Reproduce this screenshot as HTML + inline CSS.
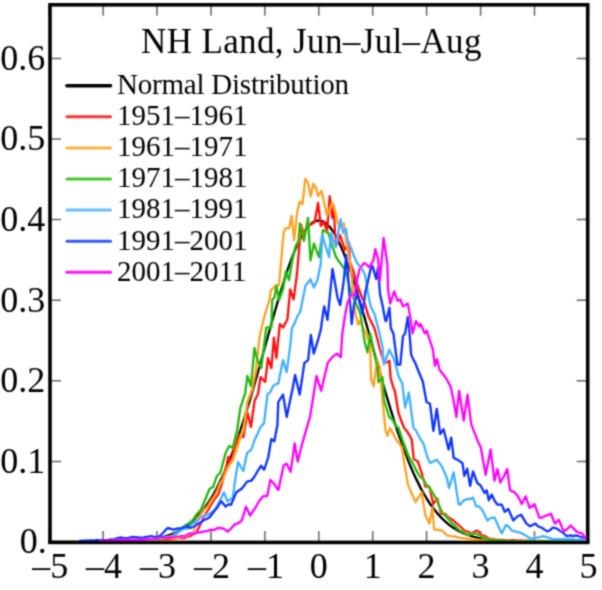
<!DOCTYPE html><html><head><meta charset="utf-8"><style>
html,body{margin:0;padding:0;background:#fff;width:602px;height:590px;overflow:hidden}
svg{display:block}
text{font-family:"Liberation Serif",serif;fill:#000}
</style></head><body>
<svg width="602" height="590" viewBox="0 0 602 590">
<defs><filter id="bl" x="-5%" y="-5%" width="110%" height="110%"><feConvolveMatrix order="3" kernelMatrix="0.04 0.12 0.04 0.12 0.36 0.12 0.04 0.12 0.04" preserveAlpha="false"/></filter></defs>
<g filter="url(#bl)">
<path d="M49.2 542.0V531.0M49.2 4.8V15.8M103.1 542.0V531.0M103.1 4.8V15.8M157.0 542.0V531.0M157.0 4.8V15.8M211.0 542.0V531.0M211.0 4.8V15.8M264.9 542.0V531.0M264.9 4.8V15.8M318.8 542.0V531.0M318.8 4.8V15.8M372.7 542.0V531.0M372.7 4.8V15.8M426.6 542.0V531.0M426.6 4.8V15.8M480.6 542.0V531.0M480.6 4.8V15.8M534.5 542.0V531.0M534.5 4.8V15.8M588.4 542.0V531.0M588.4 4.8V15.8M50.0 542.0H61.0M587.7 542.0H576.7M50.0 461.4H61.0M587.7 461.4H576.7M50.0 380.8H61.0M587.7 380.8H576.7M50.0 300.2H61.0M587.7 300.2H576.7M50.0 219.6H61.0M587.7 219.6H576.7M50.0 139.0H61.0M587.7 139.0H576.7M50.0 58.4H61.0M587.7 58.4H576.7" stroke="#000" stroke-width="1.5" fill="none" opacity="0.6"/><g fill="none" stroke-linejoin="round" stroke-linecap="round" stroke-width="2.3">
<path d="M49.2,542.0 51.9,542.0 54.6,542.0 57.3,542.0 60.0,542.0 62.7,542.0 65.4,542.0 68.1,542.0 70.8,542.0 73.5,542.0 76.2,542.0 78.9,542.0 81.6,542.0 84.2,542.0 86.9,542.0 89.6,542.0 92.3,542.0 95.0,541.9 97.7,541.9 100.4,541.9 103.1,541.9 105.8,541.9 108.5,541.8 111.2,541.8 113.9,541.8 116.6,541.7 119.3,541.7 122.0,541.6 124.7,541.5 127.4,541.4 130.1,541.3 132.8,541.2 135.5,541.0 138.2,540.8 140.9,540.6 143.6,540.4 146.3,540.1 149.0,539.7 151.6,539.4 154.3,538.9 157.0,538.4 159.7,537.9 162.4,537.2 165.1,536.5 167.8,535.6 170.5,534.7 173.2,533.6 175.9,532.4 178.6,531.1 181.3,529.5 184.0,527.9 186.7,526.0 189.4,524.0 192.1,521.7 194.8,519.2 197.5,516.4 200.2,513.4 202.9,510.1 205.6,506.5 208.3,502.7 211.0,498.5 213.7,494.0 216.4,489.1 219.0,483.9 221.7,478.4 224.4,472.5 227.1,466.2 229.8,459.6 232.5,452.6 235.2,445.3 237.9,437.6 240.6,429.6 243.3,421.3 246.0,412.7 248.7,403.9 251.4,394.8 254.1,385.5 256.8,376.0 259.5,366.4 262.2,356.7 264.9,347.0 267.6,337.2 270.3,327.5 273.0,317.9 275.7,308.5 278.4,299.3 281.1,290.3 283.8,281.7 286.4,273.4 289.1,265.6 291.8,258.2 294.5,251.4 297.2,245.2 299.9,239.6 302.6,234.6 305.3,230.3 308.0,226.8 310.7,224.0 313.4,222.1 316.1,220.9 318.8,220.5 321.5,220.9 324.2,222.1 326.9,224.0 329.6,226.8 332.3,230.3 335.0,234.6 337.7,239.6 340.4,245.2 343.1,251.4 345.8,258.2 348.5,265.6 351.2,273.4 353.8,281.7 356.5,290.3 359.2,299.3 361.9,308.5 364.6,317.9 367.3,327.5 370.0,337.2 372.7,347.0 375.4,356.7 378.1,366.4 380.8,376.0 383.5,385.5 386.2,394.8 388.9,403.9 391.6,412.7 394.3,421.3 397.0,429.6 399.7,437.6 402.4,445.3 405.1,452.6 407.8,459.6 410.5,466.2 413.2,472.5 415.9,478.4 418.6,483.9 421.2,489.1 423.9,494.0 426.6,498.5 429.3,502.7 432.0,506.5 434.7,510.1 437.4,513.4 440.1,516.4 442.8,519.2 445.5,521.7 448.2,524.0 450.9,526.0 453.6,527.9 456.3,529.5 459.0,531.1 461.7,532.4 464.4,533.6 467.1,534.7 469.8,535.6 472.5,536.5 475.2,537.2 477.9,537.9 480.6,538.4 483.3,538.9 486.0,539.4 488.6,539.7 491.3,540.1 494.0,540.4 496.7,540.6 499.4,540.8 502.1,541.0 504.8,541.2 507.5,541.3 510.2,541.4 512.9,541.5 515.6,541.6 518.3,541.7 521.0,541.7 523.7,541.8 526.4,541.8 529.1,541.8 531.8,541.9 534.5,541.9 537.2,541.9 539.9,541.9 542.6,541.9 545.3,542.0 548.0,542.0 550.7,542.0 553.4,542.0 556.0,542.0 558.7,542.0 561.4,542.0 564.1,542.0 566.8,542.0 569.5,542.0 572.2,542.0 574.9,542.0 577.6,542.0 580.3,542.0 583.0,542.0 585.7,542.0 588.4,542.0" stroke="#000000" stroke-width="2.4"/>
<path d="M100.0,541.0 102.8,540.9 105.6,540.9 108.3,540.9 111.1,540.8 113.9,540.7 116.7,540.7 119.4,540.5 122.2,540.6 125.0,540.5 127.8,540.6 130.6,540.2 133.3,540.3 136.1,540.1 138.9,540.4 141.7,540.3 144.4,539.9 147.2,540.3 150.0,540.0 152.9,540.1 155.8,539.8 158.8,539.6 161.7,539.1 164.6,538.8 167.5,539.0 170.4,538.5 173.3,538.4 176.2,538.3 179.2,537.9 182.1,538.1 185.0,538.0 187.8,536.7 190.5,535.9 193.2,534.3 196.0,533.0 199.0,527.3 202.0,521.0 205.0,515.0 208.5,509.5 212.0,503.0 215.2,498.4 218.5,494.1 222.0,483.4 225.6,469.2 228.3,456.7 231.0,463.0 234.5,447.8 239.8,435.3 243.4,437.1 247.4,412.7 251.0,426.9 254.6,400.8 258.1,393.7 260.5,377.1 265.2,381.9 268.0,358.0 271.4,368.1 273.9,337.6 276.4,358.0 279.8,324.1 283.2,327.5 287.5,319.0 290.2,289.3 293.6,299.5 297.0,274.0 299.0,250.0 301.2,224.7 303.9,235.5 307.0,226.0 310.7,224.7 314.7,222.0 318.1,203.0 320.8,226.0 324.2,222.0 327.0,232.8 329.7,196.2 332.4,217.9 333.7,205.7 335.1,232.8 336.4,245.0 340.0,235.0 345.0,250.0 349.0,242.0 350.0,262.0 353.0,270.3 356.0,280.0 358.8,289.0 361.6,296.4 364.4,302.2 368.5,316.4 370.3,320.0 374.4,328.1 377.1,337.6 379.8,348.5 383.9,362.0 386.6,362.4 389.3,360.7 390.7,378.3 393.4,387.8 394.8,390.8 398.6,413.2 401.4,421.3 404.1,428.0 406.0,430.0 408.9,434.3 411.8,439.8 413.8,459.3 417.7,461.2 421.6,472.9 425.5,486.6 429.4,486.6 433.3,504.1 437.2,498.3 441.1,513.9 445.0,513.9 448.9,517.8 452.8,520.1 456.7,523.6 460.0,526.3 464.3,530.6 468.6,532.0 471.5,533.5 474.4,531.7 477.3,530.6 481.6,535.0 485.2,536.3 488.8,538.5 491.6,539.1 494.4,539.2 497.2,539.8 500.0,540.0 502.9,540.0 505.7,540.4 508.6,540.4 511.4,540.1 514.3,540.2 517.1,540.6 520.0,540.5 522.9,540.7 525.7,540.6 528.6,540.6 531.4,540.8 534.3,540.9 537.1,540.9 540.0,541.0 542.7,541.0 545.4,541.1 548.1,541.1 550.8,541.1 553.5,541.1 556.2,541.2 558.9,541.2 561.6,541.2 564.4,541.3 567.1,541.3 569.8,541.3 572.5,541.4 575.2,541.4 577.9,541.4 580.6,541.4 583.3,541.5 586.0,541.5" stroke="#ff1010"/>
<path d="M100.0,541.0 102.8,541.0 105.6,541.0 108.4,541.0 111.2,541.0 114.0,541.0 116.8,541.0 119.6,541.0 122.4,541.0 125.2,541.0 128.0,541.0 130.8,541.0 133.6,541.0 136.4,541.0 139.2,541.0 142.0,541.0 144.8,541.0 147.6,541.0 150.4,541.0 153.2,541.0 156.0,541.0 158.8,541.0 161.6,541.0 164.4,541.0 167.2,541.0 170.0,541.0 172.9,539.8 175.8,539.4 178.6,538.2 181.5,536.8 184.4,536.8 187.2,535.8 190.1,533.9 193.0,533.4 197.1,519.0 200.7,514.7 204.2,509.7 207.8,506.6 210.8,501.2 213.7,497.5 216.7,492.3 219.7,484.7 222.6,479.9 225.6,472.7 229.1,465.1 232.7,460.3 238.0,445.0 240.7,436.4 243.4,430.0 247.4,402.0 252.2,389.0 255.8,370.0 259.5,337.6 264.6,315.6 269.5,300.0 270.8,290.5 274.9,286.4 279.0,285.1 282.4,247.1 283.7,232.2 285.8,228.1 289.2,228.1 291.5,216.0 294.2,240.0 297.3,210.8 299.8,201.6 302.5,204.3 305.3,178.6 308.0,182.6 310.7,196.2 313.4,184.0 316.1,188.0 318.1,196.2 321.5,190.8 324.2,203.0 327.0,215.2 332.4,203.0 335.1,211.1 337.8,223.3 340.5,227.4 343.9,223.3 346.0,240.0 350.0,262.0 353.0,290.0 355.3,313.4 358.3,324.6 360.3,320.5 363.3,328.1 366.3,333.6 370.3,347.1 371.0,378.3 373.7,386.4 377.1,359.3 379.8,367.4 382.5,400.0 385.5,430.0 387.4,435.9 390.0,428.0 393.1,433.6 396.2,439.8 399.1,443.4 402.0,447.6 404.0,461.2 407.9,484.6 411.8,493.7 415.7,502.2 418.6,497.2 421.6,492.4 425.5,515.8 429.4,523.6 432.3,508.0 434.2,529.5 437.1,529.9 440.1,530.0 443.0,531.4 446.9,535.3 450.8,536.1 454.7,536.3 458.0,537.4 461.2,538.0 464.5,538.2 468.0,539.0 471.5,539.4 475.0,540.2 477.8,540.2 480.6,540.5 483.3,540.5 486.1,540.4 488.9,540.6 491.7,540.7 494.4,540.8 497.2,541.0 500.0,541.0 502.8,541.0 505.5,541.0 508.3,541.0 511.1,541.1 513.9,541.1 516.6,541.1 519.4,541.1 522.2,541.1 525.0,541.1 527.7,541.2 530.5,541.2 533.3,541.2 536.1,541.2 538.8,541.2 541.6,541.2 544.4,541.3 547.2,541.3 549.9,541.3 552.7,541.3 555.5,541.3 558.3,541.3 561.0,541.4 563.8,541.4 566.6,541.4 569.4,541.4 572.1,541.4 574.9,541.4 577.7,541.5 580.5,541.5 583.2,541.5 586.0,541.5" stroke="#ffa020"/>
<path d="M100.0,541.0 102.7,540.9 105.5,540.9 108.2,540.8 110.9,540.7 113.6,540.4 116.4,540.4 119.1,540.2 121.8,540.2 124.5,540.3 127.3,539.9 130.0,540.0 132.7,539.8 135.5,539.7 138.2,539.7 140.9,539.8 143.6,539.6 146.4,539.2 149.1,539.2 151.8,539.0 154.5,539.4 157.3,539.3 160.0,539.0 163.0,538.5 166.0,537.7 169.0,536.9 172.0,536.3 175.0,535.0 178.3,532.3 181.7,528.3 185.0,525.6 190.0,522.6 193.6,519.0 197.1,513.7 200.7,510.1 205.0,500.0 209.6,488.7 213.1,487.0 216.7,476.3 220.3,472.7 225.6,453.1 229.2,446.0 232.7,447.8 237.2,430.0 240.3,408.0 245.1,393.7 247.4,375.9 251.0,386.0 254.4,347.8 257.8,361.4 261.2,368.1 266.3,327.5 271.4,327.5 272.2,300.0 274.7,296.9 276.3,285.1 279.0,300.0 283.2,288.5 285.8,271.5 289.0,280.0 292.0,262.0 295.3,247.1 298.6,240.2 299.8,223.3 303.9,240.9 308.0,217.9 310.5,260.5 313.9,243.6 319.0,257.1 322.9,230.1 325.6,231.4 328.3,232.8 332.1,245.7 336.0,257.0 339.0,261.5 342.0,265.4 345.0,270.0 348.5,282.1 352.0,295.0 354.8,300.9 357.5,306.7 360.3,313.4 364.9,343.0 367.6,352.5 370.3,333.6 373.7,351.2 377.1,366.1 378.5,382.3 382.5,376.9 383.9,400.0 389.2,417.0 392.3,419.4 395.5,425.4 398.6,428.0 402.3,439.7 406.0,449.5 408.9,456.9 411.9,461.8 414.8,467.2 417.7,472.9 420.4,477.2 423.1,478.8 425.9,484.0 428.6,486.8 431.3,490.5 434.2,495.3 437.1,501.3 440.1,508.1 443.0,513.9 446.1,516.4 449.2,520.0 452.4,523.5 455.5,526.2 458.6,529.5 460.0,530.6 463.6,532.3 467.2,535.0 470.1,534.5 473.0,533.7 475.9,533.5 479.4,535.3 483.0,537.8 486.6,538.7 490.3,540.0 493.1,540.1 495.9,540.1 498.7,540.5 501.6,540.7 504.4,540.7 507.2,540.9 510.0,541.0 512.7,541.0 515.4,541.0 518.1,541.1 520.9,541.1 523.6,541.1 526.3,541.1 529.0,541.1 531.7,541.1 534.4,541.2 537.1,541.2 539.9,541.2 542.6,541.2 545.3,541.2 548.0,541.2 550.7,541.3 553.4,541.3 556.1,541.3 558.9,541.3 561.6,541.3 564.3,541.4 567.0,541.4 569.7,541.4 572.4,541.4 575.1,541.4 577.9,541.4 580.6,541.5 583.3,541.5 586.0,541.5" stroke="#20b810"/>
<path d="M100.0,541.0 102.8,540.8 105.6,540.8 108.3,540.7 111.1,540.7 113.9,540.4 116.7,540.2 119.4,540.3 122.2,540.2 125.0,539.9 127.8,540.0 130.6,539.7 133.3,539.8 136.1,539.3 138.9,539.3 141.7,539.6 144.4,539.1 147.2,538.9 150.0,539.0 152.9,538.9 155.7,538.5 158.6,537.8 161.4,537.9 164.3,537.7 167.1,537.0 170.0,537.0 172.9,535.6 175.7,533.4 178.6,532.1 181.4,530.1 184.3,528.7 187.1,528.5 190.0,526.1 193.6,522.9 197.1,521.3 200.7,517.2 203.7,515.9 206.6,515.1 209.6,513.7 213.1,511.2 216.7,506.6 220.2,500.0 223.8,492.3 227.4,501.2 232.7,497.7 235.4,478.6 238.1,462.0 243.4,471.0 247.0,453.1 251.4,449.5 254.6,440.0 257.6,433.8 260.5,427.0 264.0,423.4 267.6,393.7 269.9,392.7 273.6,385.3 278.3,383.4 283.0,360.1 286.7,372.2 290.4,344.2 291.9,328.3 294.7,323.1 297.5,316.0 300.3,311.4 305.4,285.9 310.5,279.2 313.9,287.6 317.3,280.8 320.7,263.9 322.4,235.0 325.8,247.0 329.2,257.1 330.8,233.4 335.9,247.0 340.5,219.2 343.2,232.8 345.9,228.7 347.6,241.0 351.0,247.9 354.4,257.3 357.1,263.0 359.8,266.3 362.5,269.8 365.2,275.3 367.9,293.0 370.7,306.5 374.7,314.6 378.5,329.5 382.5,347.1 383.9,364.7 386.6,357.1 389.3,349.8 393.4,357.9 396.1,366.5 398.8,376.9 402.3,383.4 405.1,407.6 408.8,392.7 413.5,428.0 415.7,430.0 419.6,437.8 423.5,443.7 427.4,457.3 430.0,463.0 433.4,461.4 436.8,459.7 441.9,466.4 447.0,478.3 449.0,488.0 453.7,472.4 458.6,504.1 460.0,504.7 463.6,500.6 467.2,498.9 470.1,499.2 473.0,497.5 475.9,506.1 478.8,506.4 481.6,509.0 484.5,514.2 487.4,520.5 491.0,517.9 494.6,517.6 498.2,526.0 501.8,533.5 506.1,524.8 509.0,527.0 511.9,530.6 514.8,531.3 517.6,532.0 521.2,532.9 524.8,534.9 530.0,538.5 533.5,538.2 536.7,537.5 540.0,537.1 543.2,536.2 546.5,537.2 549.7,538.2 553.0,539.2 555.8,539.2 558.6,539.2 561.4,539.3 564.1,538.9 566.9,539.2 569.7,539.0 572.5,539.2 575.2,539.6 577.9,539.8 580.6,539.4 583.3,539.6 586.0,540.0" stroke="#40b0ff"/>
<path d="M80.0,541.0 82.8,541.0 85.6,540.6 88.4,540.7 91.2,540.4 94.0,540.6 96.8,540.0 99.7,540.3 102.5,540.1 105.3,540.1 108.1,540.0 110.9,539.5 113.7,539.5 116.8,538.4 120.0,537.5 125.0,538.5 128.5,537.9 132.0,537.0 135.3,537.1 138.7,537.5 142.0,538.0 144.8,537.1 147.6,537.0 150.4,536.0 153.2,536.6 156.1,536.8 158.9,536.7 162.0,534.0 167.3,528.2 170.2,528.5 173.0,529.7 177.3,528.5 181.5,528.2 186.0,526.5 190.0,527.9 193.6,527.0 197.1,524.4 200.7,522.6 203.7,520.2 206.6,518.9 209.6,517.2 213.1,512.5 216.7,508.3 221.2,501.2 225.6,506.6 228.3,504.4 231.0,504.8 236.3,492.3 241.6,488.7 244.3,485.4 247.0,481.6 251.4,480.7 255.0,475.8 258.1,470.3 261.1,465.7 264.2,469.7 268.2,457.5 271.3,439.2 274.3,441.3 277.4,425.0 278.3,402.0 283.0,394.6 286.7,416.9 289.5,403.2 292.3,390.3 295.1,375.0 299.7,394.6 304.4,362.9 308.1,360.1 310.9,334.9 313.7,353.6 318.4,338.6 320.7,330.0 324.1,306.3 327.5,319.8 332.5,269.0 337.6,297.8 340.2,305.1 343.6,282.1 346.3,255.0 348.0,275.0 351.7,324.0 354.0,305.0 357.1,293.0 360.3,305.3 362.4,314.0 365.2,293.0 367.9,281.2 370.7,268.5 372.5,265.9 376.2,279.0 378.0,267.8 380.0,294.0 382.7,306.3 385.2,320.0 386.1,321.2 389.5,307.6 390.8,328.0 393.4,333.6 397.4,364.7 400.3,364.6 400.3,364.6 403.0,336.1 405.1,333.4 407.8,317.1 409.2,329.3 411.2,355.1 415.3,363.2 418.0,370.0 422.8,381.5 426.5,402.0 430.0,403.7 433.4,430.8 436.8,408.8 440.2,434.2 443.6,429.2 448.6,449.5 451.2,437.6 453.7,458.0 456.9,459.4 460.0,461.4 462.5,463.2 464.3,475.9 467.2,468.6 470.1,485.9 473.0,471.5 477.3,483.0 480.9,485.9 484.5,493.1 486.7,490.3 488.8,500.3 491.7,494.6 494.6,500.8 497.5,504.7 501.8,504.7 504.7,511.9 508.3,509.0 513.3,520.5 517.6,516.2 521.2,514.8 526.3,523.4 530.0,526.3 535.4,523.6 538.3,526.5 541.3,527.5 544.2,529.4 547.1,531.4 550.0,530.2 553.0,527.5 556.9,528.6 560.8,531.4 563.7,533.3 566.6,536.2 569.9,535.5 573.1,536.1 576.4,535.3 579.6,536.5 582.9,537.4 586.1,538.2" stroke="#0a30ff"/>
<path d="M100.0,541.0 102.8,540.9 105.6,540.8 108.3,540.7 111.1,540.6 113.9,540.5 116.7,540.5 119.4,540.2 122.2,540.3 125.0,539.9 127.8,539.9 130.6,539.8 133.3,539.6 136.1,539.8 138.9,539.5 141.7,539.7 144.4,539.7 147.2,539.1 150.0,539.2 152.8,539.2 155.6,538.9 158.4,538.5 161.1,537.7 163.9,537.8 166.7,537.7 169.5,537.3 172.6,536.9 175.7,536.6 178.8,536.5 181.9,536.2 185.0,536.3 190.0,533.3 193.6,533.4 197.1,532.5 200.7,532.4 204.3,531.4 207.8,530.8 211.4,529.7 214.4,529.9 217.3,528.1 220.3,527.9 223.9,528.9 227.4,531.5 230.9,528.8 234.5,524.4 238.1,523.3 241.6,520.8 246.1,506.6 250.0,515.5 255.3,508.0 259.1,501.0 263.1,496.2 267.2,496.2 270.3,479.9 274.3,484.0 278.4,490.1 283.5,465.7 286.5,463.6 290.6,471.8 294.7,443.3 297.7,461.6 301.8,445.3 305.8,431.1 310.0,416.9 313.2,397.3 316.5,375.9 321.2,390.8 324.4,376.9 327.7,362.9 330.8,359.0 333.9,355.6 337.0,353.6 340.8,357.3 342.2,335.0 344.9,316.0 347.6,302.4 351.7,294.3 354.4,295.7 357.1,279.4 359.8,268.6 363.9,263.1 366.6,264.5 369.3,267.2 373.4,260.4 375.3,249.1 378.0,258.5 379.9,280.8 383.6,238.0 387.4,264.0 388.1,290.0 390.2,303.6 394.2,291.4 397.6,300.8 400.3,299.5 403.0,306.3 407.8,303.6 409.8,314.4 412.5,333.4 415.9,321.2 419.3,326.6 420.7,323.9 424.7,333.4 426.8,330.7 430.2,341.5 432.9,349.7 434.9,365.9 437.0,359.2 439.7,370.0 443.4,374.7 447.0,379.7 450.8,387.1 453.6,400.7 456.4,417.0 459.1,390.8 463.8,420.7 467.5,394.6 471.3,424.4 475.0,433.9 477.9,441.3 480.8,447.5 485.7,474.8 490.6,449.5 494.5,480.7 497.4,469.0 500.3,482.6 503.8,476.5 507.2,469.0 510.1,490.4 514.0,491.8 517.9,496.3 521.8,504.1 525.7,496.3 529.6,508.0 534.5,504.1 539.3,517.7 542.2,517.6 545.2,515.8 548.1,514.8 551.0,513.8 554.9,523.6 558.8,519.7 563.7,531.4 567.1,529.2 570.5,525.5 573.5,528.4 576.4,531.4 579.3,532.8 582.2,533.3 586.1,539.2" stroke="#ff00ff"/>
</g><rect x="50.0" y="4.8" width="537.7" height="537.6" fill="none" stroke="#000" stroke-width="3.6"/><text x="45.3" y="472.7" font-size="36" text-anchor="end">0.1</text><text x="45.3" y="392.1" font-size="36" text-anchor="end">0.2</text><text x="45.3" y="311.5" font-size="36" text-anchor="end">0.3</text><text x="45.3" y="230.9" font-size="36" text-anchor="end">0.4</text><text x="45.3" y="150.3" font-size="36" text-anchor="end">0.5</text><text x="45.3" y="69.7" font-size="36" text-anchor="end">0.6</text><text x="46.8" y="553.3" font-size="36" text-anchor="end">0.</text><text x="50.2" y="578" font-size="36" text-anchor="middle">–5</text><text x="104.1" y="578" font-size="36" text-anchor="middle">–4</text><text x="158.0" y="578" font-size="36" text-anchor="middle">–3</text><text x="212.0" y="578" font-size="36" text-anchor="middle">–2</text><text x="265.9" y="578" font-size="36" text-anchor="middle">–1</text><text x="318.8" y="578" font-size="36" text-anchor="middle">0</text><text x="372.7" y="578" font-size="36" text-anchor="middle">1</text><text x="426.6" y="578" font-size="36" text-anchor="middle">2</text><text x="480.6" y="578" font-size="36" text-anchor="middle">3</text><text x="534.5" y="578" font-size="36" text-anchor="middle">4</text><text x="588.4" y="578" font-size="36" text-anchor="middle">5</text><text x="141" y="53" font-size="35" letter-spacing="0.37">NH Land, Jun–Jul–Aug</text><path d="M67 85.7H110.5" stroke="#000" stroke-width="3.6" stroke-linecap="round"/><text x="117" y="94.0" font-size="29" letter-spacing="-0.22">Normal Distribution</text><path d="M67 116.8H110.5" stroke="#ff3030" stroke-width="3.0" stroke-linecap="round"/><text x="117" y="125.1" font-size="29">1951–1961</text><path d="M67 147.9H110.5" stroke="#ffb040" stroke-width="3.0" stroke-linecap="round"/><text x="117" y="156.2" font-size="29">1961–1971</text><path d="M67 179.0H110.5" stroke="#40c828" stroke-width="3.0" stroke-linecap="round"/><text x="117" y="187.3" font-size="29">1971–1981</text><path d="M67 210.1H110.5" stroke="#64c0ff" stroke-width="3.0" stroke-linecap="round"/><text x="117" y="218.4" font-size="29">1981–1991</text><path d="M67 241.2H110.5" stroke="#3258ff" stroke-width="3.0" stroke-linecap="round"/><text x="117" y="249.5" font-size="29">1991–2001</text><path d="M67 272.3H110.5" stroke="#ff14ff" stroke-width="3.0" stroke-linecap="round"/><text x="117" y="280.6" font-size="29">2001–2011</text></g></svg></body></html>
